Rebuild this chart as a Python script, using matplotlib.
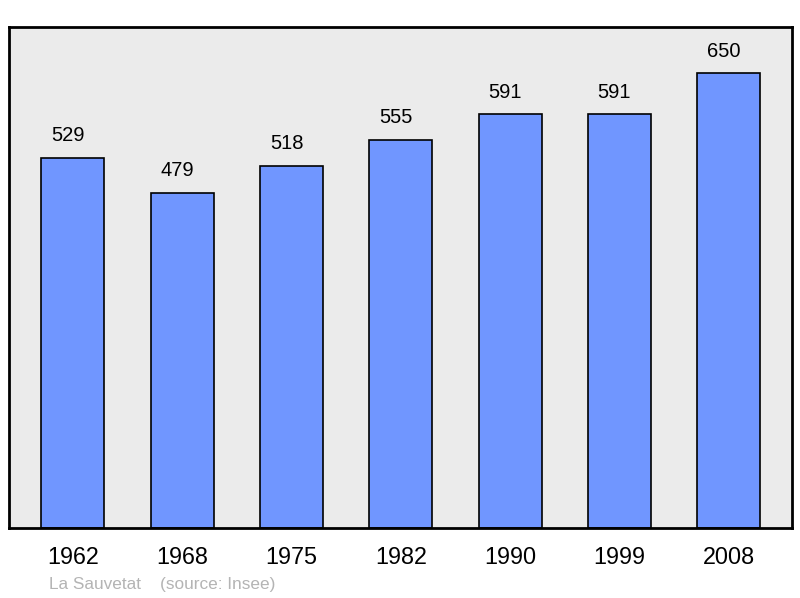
import matplotlib.pyplot as plt

plt.rcParams['font.family'] = ['Liberation Sans', 'DejaVu Sans']

years = ["1962", "1968", "1975", "1982", "1990", "1999", "2008"]
population = [529, 479, 518, 555, 591, 591, 650]

fig = plt.figure(figsize=(8, 5.98), dpi=100)
ax = fig.add_axes([0.01125, 0.1171, 0.97875, 0.8377])
ax.set_facecolor("#ebebeb")

x = range(len(years))
ax.bar(x, population, width=0.577, color="#7096ff", edgecolor="black", linewidth=1.2, zorder=2)

# value labels sit a bit left of the bar centre, like the original
for i, v in enumerate(population):
    ax.annotate(str(v), (i, v), xytext=(-3.5, 9), textcoords="offset points",
                ha="center", va="bottom", fontsize=14.5)

ax.set_xlim(-0.585, 6.58)
ax.set_ylim(0, 716)
ax.set_xticks(list(x))
ax.set_xticklabels(years, fontsize=16.8)
ax.tick_params(axis="x", length=0, pad=13)
ax.set_yticks([])
for s in ax.spines.values():
    s.set_linewidth(2)

fig.text(49 / 800, 1 - 584 / 598, "La Sauvetat    (source: Insee)", color="#b4b4b4",
         fontsize=12.4, va="center", ha="left")

fig.savefig("out.png", dpi=100)
